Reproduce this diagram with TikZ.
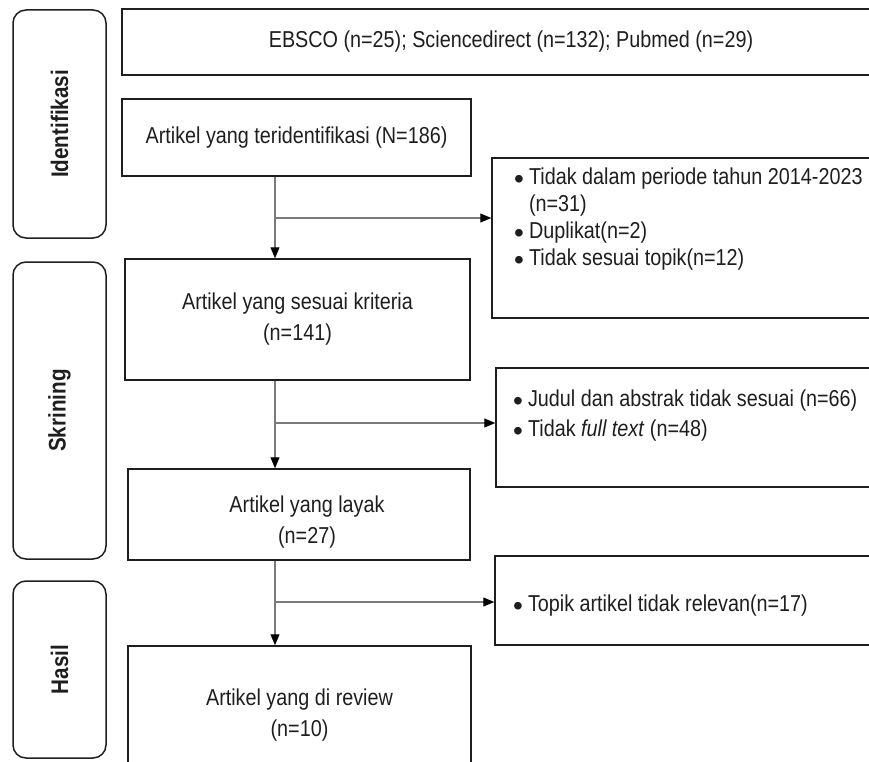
\documentclass[tikz,border=0pt]{standalone}
\usepackage{fontspec}
\setmainfont{Liberation Sans}[FakeStretch=0.86]
\newfontfamily\bltfont{Liberation Sans}
\usetikzlibrary{arrows.meta}
\definecolor{ink}{HTML}{1E1E1E}
\definecolor{linegray}{HTML}{7A7A7A}
\newcommand\blt{\raisebox{-3.5pt}{\bltfont\fontsize{28}{26}\selectfont\textbullet}\hspace{5pt}}
\begin{document}
\begin{tikzpicture}[x=1pt,y=-1pt,
  every node/.style={font=\fontsize{23}{26}\selectfont, text=ink},
  sidebox/.style={draw=ink, line width=1.5pt, rounded corners=13pt, rotate=90,
    font=\fontsize{24}{26}\selectfont\bfseries, inner sep=0pt},
  mainbox/.style={draw=ink, line width=1.5pt, inner sep=0pt, align=center,
    font=\fontsize{23}{31}\selectfont},
  txt/.style={inner sep=0pt, align=left, anchor=north west},
  conn/.style={draw=linegray, line width=1.1pt,
    -{Triangle[length=11pt,width=9pt,color=black]}}]
\useasboundingbox (0,0) rectangle (869,762);
\clip (0,0) rectangle (869,762);

% phase labels
\node[sidebox, minimum width=228pt, minimum height=93pt] (sI) at (59.5,124) {Identifikasi};
\node[sidebox, minimum width=297pt, minimum height=93pt] (sS) at (59.5,410.5) {Skrining};
\node[sidebox, minimum width=177pt, minimum height=93pt] (sH) at (59.5,669.5) {Hasil};

% main column
\node[mainbox, minimum width=778pt, minimum height=66pt] (src) at (511,42)
  {EBSCO (n=25); Sciencedirect (n=132); Pubmed (n=29)};
\node[mainbox, minimum width=349pt, minimum height=77pt] (ident) at (296.5,137.5)
  {Artikel yang teridentifikasi (N=186)};
\node[mainbox, minimum width=345pt, minimum height=121pt] (sesuai) at (297.5,319.5)
  {Artikel yang sesuai kriteria\\(n=141)};
\node[mainbox, minimum width=342pt, minimum height=91pt] (layak) at (299,514.5) {};
\node[mainbox, draw=none] (layakT) at (307,522) {Artikel yang layak\\(n=27)};
\node[mainbox, minimum width=343pt, minimum height=138pt] (review) at (299.5,715)
  {Artikel yang di review\\(n=10)};

% exclusion boxes
\node[mainbox, minimum width=408pt, minimum height=160pt] (ex1) at (696,238) {};
\node[txt, font=\fontsize{23}{27}\selectfont] (ex1t) at (514,168)
  {\blt Tidak dalam periode tahun 2014-2023\\
   \phantom{\blt}(n=31)\\
   \blt Duplikat(n=2)\\
   \blt Tidak sesuai topik(n=12)};
\node[mainbox, minimum width=404pt, minimum height=119pt] (ex2) at (698,427.5) {};
\node[txt, font=\fontsize{23}{30}\selectfont] (ex2t) at (513,390)
  {\blt Judul dan abstrak tidak sesuai (n=66)\\
   \blt Tidak \textit{full text} (n=48)};
\node[mainbox, minimum width=405pt, minimum height=89pt] (ex3) at (697.5,600.5) {};
\node[txt] (ex3t) at (513,595)
  {\blt Topik artikel tidak relevan(n=17)};

% connectors
\coordinate (b1) at (275,218);
\coordinate (b2) at (275,423);
\coordinate (b3) at (275,602);
\draw[conn] (ident.south -| b1) -- (sesuai.north -| b1);
\draw[conn] (b1) -- (b1 -| ex1.west);
\draw[conn] (sesuai.south -| b2) -- (layak.north -| b2);
\draw[conn] (b2) -- (b2 -| ex2.west);
\draw[conn] (layak.south -| b3) -- (review.north -| b3);
\draw[conn] (b3) -- (b3 -| ex3.west);
\end{tikzpicture}
\end{document}
